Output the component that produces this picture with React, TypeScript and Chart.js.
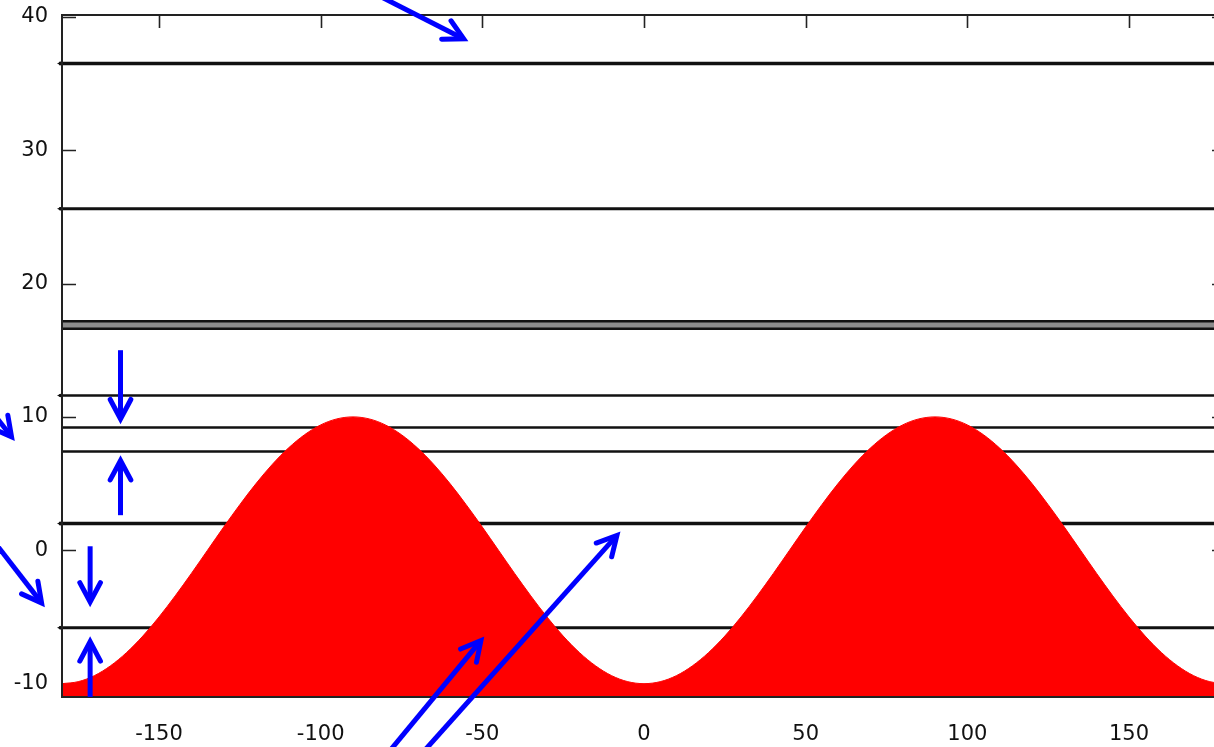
import React, { useEffect, useRef } from 'react';
import { Chart, registerables } from 'chart.js';

Chart.register(...registerables);

// Red filled curve (x in degrees)
const curveX = [
  -180, -175, -170, -165, -160, -155, -150, -145, -140, -135, -130, -125, -120, -115, -110, -105, -100, -95,
  -90, -85, -80, -75, -70, -65, -60, -55, -50, -45, -40, -35, -30, -25, -20, -15, -10, -5,
  0, 5, 10, 15, 20, 25, 30, 35, 40, 45, 50, 55, 60, 65, 70, 75, 80, 85,
  90, 95, 100, 105, 110, 115, 120, 125, 130, 135, 140, 145, 150, 155, 160, 165, 170, 175, 180,
];
const curveY = [
  -10, -9.85, -9.4, -8.66, -7.66, -6.43, -5.0, -3.42, -1.74, 0, 1.74, 3.42, 5.0, 6.43, 7.66, 8.66, 9.4, 9.85,
  10, 9.85, 9.4, 8.66, 7.66, 6.43, 5.0, 3.42, 1.74, 0, -1.74, -3.42, -5.0, -6.43, -7.66, -8.66, -9.4, -9.85,
  -10, -9.85, -9.4, -8.66, -7.66, -6.43, -5.0, -3.42, -1.74, 0, 1.74, 3.42, 5.0, 6.43, 7.66, 8.66, 9.4, 9.85,
  10, 9.85, 9.4, 8.66, 7.66, 6.43, 5.0, 3.42, 1.74, 0, -1.74, -3.42, -5.0, -6.43, -7.66, -8.66, -9.4, -9.85, -10,
];

const xTicks = [-150, -100, -50, 0, 50, 100, 150];
const yTicks = [-10, 0, 10, 20, 30, 40];

// Horizontal black lines (y values)
const hLineY = [16.88, 36.5, 25.6, 17.17, 16.6, 11.6, 9.2, 7.4, 2.0, -5.8];
const hLineNub = [false, true, true, false, false, true, false, false, true, true];

// Blue arrows (data units)
const arrowFromX = [-104.1, -222.6, -213.3, -161.9, -161.9, -171.3, -171.3, -91.8, -84.8];
const arrowFromY = [44.3, 16.95, 4.5, 15.0, 2.63, 0.3, -11.0, -18.9, -19.6];
const arrowToX = [-54.6, -194.8, -185.5, -161.9, -161.9, -171.3, -171.3, -49.6, -7.5];
const arrowToY = [38.2, 8.25, -4.2, 9.53, 7.05, -4.2, -6.53, -6.53, 1.35];

const hLineWidths = [6, 3.5, 3, 2.5, 2.5, 2.5, 2.5, 2.5, 3.5, 3];
const hLineColors = ['#8c8c8c', '#111', '#111', '#111', '#111', '#111', '#111', '#111', '#111', '#111'];

const decorPlugin = {
  id: 'decor',
  beforeDatasetsDraw(chart: any) {
    const { ctx, chartArea, scales } = chart;
    const { left, right, top, bottom } = chartArea;
    const xs = scales.x;
    const ys = scales.y;
    ctx.save();
    ctx.strokeStyle = '#222';
    ctx.lineWidth = 1.6;
    ctx.beginPath();
    yTicks.forEach((v) => {
      const py = Math.round(ys.getPixelForValue(v)) + 0.5;
      ctx.moveTo(left, py);
      ctx.lineTo(left + 14, py);
      ctx.moveTo(right, py);
      ctx.lineTo(right - 14, py);
    });
    xTicks.forEach((v) => {
      const px = Math.round(xs.getPixelForValue(v)) + 0.5;
      ctx.moveTo(px, top);
      ctx.lineTo(px, top + 13);
      ctx.moveTo(px, bottom);
      ctx.lineTo(px, bottom - 13);
    });
    ctx.stroke();

    hLineY.forEach((v, i) => {
      const py = ys.getPixelForValue(v);
      ctx.strokeStyle = hLineColors[i];
      ctx.lineWidth = hLineWidths[i];
      ctx.beginPath();
      ctx.moveTo(left - (hLineNub[i] ? 3 : 0), py);
      ctx.lineTo(chart.width + 10, py);
      ctx.stroke();
      if (hLineNub[i]) {
        ctx.fillStyle = '#111';
        ctx.beginPath();
        ctx.moveTo(left - 5, py);
        ctx.lineTo(left + 1, py - 2.8);
        ctx.lineTo(left + 1, py + 2.8);
        ctx.closePath();
        ctx.fill();
      }
    });
    ctx.restore();
  },
  afterDraw(chart: any) {
    const { ctx, chartArea, scales } = chart;
    const { left, right, top, bottom } = chartArea;
    const xs = scales.x;
    const ys = scales.y;
    ctx.save();
    // border
    ctx.strokeStyle = '#222';
    ctx.lineWidth = 2;
    ctx.strokeRect(left, top, right - left, bottom - top);

    // arrows
    ctx.strokeStyle = '#0000ff';
    const w = 5;
    ctx.lineWidth = w;
    const L = 22;
    const a = (28 * Math.PI) / 180;
    arrowFromX.forEach((fx, i) => {
      const x0 = xs.getPixelForValue(fx);
      const y0 = ys.getPixelForValue(arrowFromY[i]);
      const tx = xs.getPixelForValue(arrowToX[i]);
      const ty = ys.getPixelForValue(arrowToY[i]);
      const ang = Math.atan2(ty - y0, tx - x0);
      const back = (w / (2 * Math.sin(a))) * 0.8;
      const x1 = tx - back * Math.cos(ang);
      const y1 = ty - back * Math.sin(ang);
      ctx.lineCap = 'butt';
      ctx.beginPath();
      ctx.moveTo(x0, y0);
      ctx.lineTo(x1 - 2 * Math.cos(ang), y1 - 2 * Math.sin(ang));
      ctx.stroke();
      ctx.lineCap = 'round';
      ctx.lineJoin = 'miter';
      ctx.beginPath();
      ctx.moveTo(x1 - L * Math.cos(ang - a), y1 - L * Math.sin(ang - a));
      ctx.lineTo(x1, y1);
      ctx.lineTo(x1 - L * Math.cos(ang + a), y1 - L * Math.sin(ang + a));
      ctx.stroke();
    });
    ctx.restore();
  },
};

export default function App() {
  const canvasRef = useRef<HTMLCanvasElement | null>(null);

  useEffect(() => {
    const canvas = canvasRef.current;
    if (!canvas) return;
    const points = curveX.map((x, i) => ({ x, y: curveY[i] }));
    const chart = new Chart(canvas, {
      type: 'line',
      data: {
        datasets: [
          {
            data: points,
            fill: 'start',
            backgroundColor: '#ff0000',
            borderColor: '#ff0000',
            borderWidth: 1,
            pointRadius: 0,
            cubicInterpolationMode: 'monotone',
          },
        ],
      },
      options: {
        animation: false,
        responsive: true,
        maintainAspectRatio: false,
        events: [],
        layout: { padding: { top: 15, right: 14, left: 0, bottom: 0 } },
        plugins: { legend: { display: false }, tooltip: { enabled: false } },
        scales: {
          x: {
            type: 'linear',
            min: -180,
            max: 180,
            grid: { display: false, drawTicks: false },
            border: { display: false },
            afterBuildTicks: (scale: any) => {
              scale.ticks = xTicks.map((v) => ({ value: v }));
            },
            afterFit: (scale: any) => {
              scale.height = 50;
              scale.paddingLeft = 0;
              scale.paddingRight = 0;
            },
            ticks: {
              padding: 25,
              color: '#111',
              maxRotation: 0,
              font: { family: 'DejaVu Sans', size: 21 },
            },
          },
          y: {
            type: 'linear',
            min: -11,
            max: 40.13,
            grid: { display: false, drawTicks: false },
            border: { display: false },
            afterBuildTicks: (scale: any) => {
              scale.ticks = yTicks.map((v) => ({ value: v }));
            },
            afterFit: (scale: any) => {
              scale.width = 62;
              scale.paddingTop = 0;
              scale.paddingBottom = 0;
            },
            ticks: {
              padding: 14,
              color: '#111',
              font: { family: 'DejaVu Sans', size: 21 },
            },
          },
        },
      },
      plugins: [decorPlugin],
    } as any);
    return () => chart.destroy();
  }, []);

  return (
    <div style={{ position: 'fixed', left: 0, top: 0, width: 1214, height: 747, overflow: 'hidden', background: '#fff' }}>
      <div style={{ position: 'absolute', left: 0, top: 0, width: 1240, height: 747 }}>
        <canvas ref={canvasRef} />
      </div>
    </div>
  );
}
